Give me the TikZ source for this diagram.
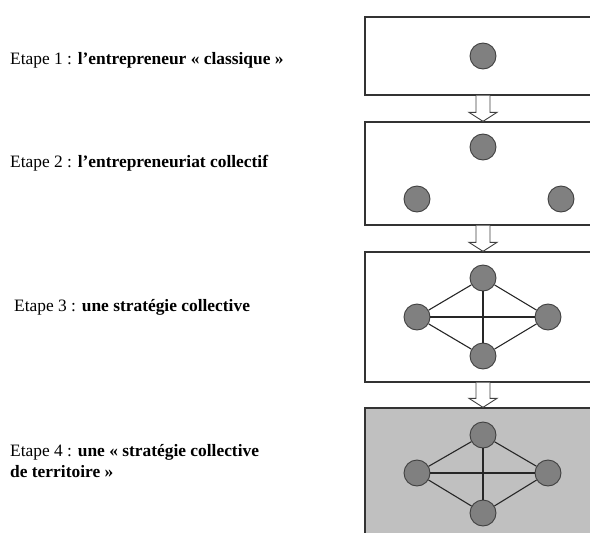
\documentclass[tikz,border=0pt]{standalone}
\usepackage{fontspec}
\setmainfont{Liberation Serif}
\usetikzlibrary{calc}

\definecolor{discgray}{RGB}{128,128,128}
\definecolor{shadegray}{RGB}{192,192,192}

\begin{document}
\begin{tikzpicture} [
						x=1pt, y=-1pt,
						font=\fontsize{17.4}{20.5}\selectfont,
						etape/.style={anchor=west, align=left, inner sep=0pt},
						etapebox/.style={draw=black!80, line width=1.3pt, minimum width=236pt, inner sep=0pt},
						actor/.style={circle, draw=black!75, fill=discgray, line width=0.9pt, minimum size=26pt, inner sep=0pt},
						link/.style={draw=black!85, line width=1.1pt},
						blockarrow/.style={draw=black!75, fill=white, line width=0.9pt, line join=miter}
					]

\useasboundingbox (0,0) rectangle (590,533);
\clip (0,0) rectangle (590,533);

% boxes
\node (b1) [etapebox, minimum height=78pt] at (483,56) {};
\node (b2) [etapebox, minimum height=103pt] at (483,173.5) {};
\node (b3) [etapebox, minimum height=130pt] at (483,317) {};
\node (b4) [etapebox, minimum height=140pt, fill=shadegray] at (483,478) {};

% labels
\node (e1) [etape] at (10,60) {Etape 1 : \textbf{l’entrepreneur «~classique~»}};
\node (e2) [etape] at (10,163) {Etape 2 : \textbf{l’entrepreneuriat collectif}};
\node (e3) [etape] at (14,307) {Etape 3 : \textbf{une stratégie collective}};
\node (e4) [etape] at (10,461) {Etape 4 : \textbf{une «~stratégie collective}\\\textbf{de territoire~»}};

% actors
\node (c1) [actor] at (483,56) {};

\node (c2t) [actor] at (483,147) {};
\node (c2l) [actor] at (417,199) {};
\node (c2r) [actor] at (561,199) {};

\node (c3t) [actor] at (483,278) {};
\node (c3l) [actor] at (417,317) {};
\node (c3r) [actor] at (548,317) {};
\node (c3b) [actor] at (483,356) {};

\node (c4t) [actor] at (483,435) {};
\node (c4l) [actor] at (417,473) {};
\node (c4r) [actor] at (548,473) {};
\node (c4b) [actor] at (483,513) {};

\path[link]
	(c3t) edge (c3l) edge (c3r) edge (c3b)
	(c3l) edge (c3r) edge (c3b)
	(c3r) edge (c3b)
	(c4t) edge (c4l) edge (c4r) edge (c4b)
	(c4l) edge (c4r) edge (c4b)
	(c4r) edge (c4b);

% arrows between the steps
\foreach \a/\b in {b1/b2, b2/b3, b3/b4}
	\draw[blockarrow] ($(\a.south)+(-7,0)$) -- ($(\b.north)+(-7,-9)$) -- ($(\b.north)+(-14,-9)$)
		-- (\b.north) -- ($(\b.north)+(14,-9)$) -- ($(\b.north)+(7,-9)$) -- ($(\a.south)+(7,0)$);
\end{tikzpicture}
\end{document}
